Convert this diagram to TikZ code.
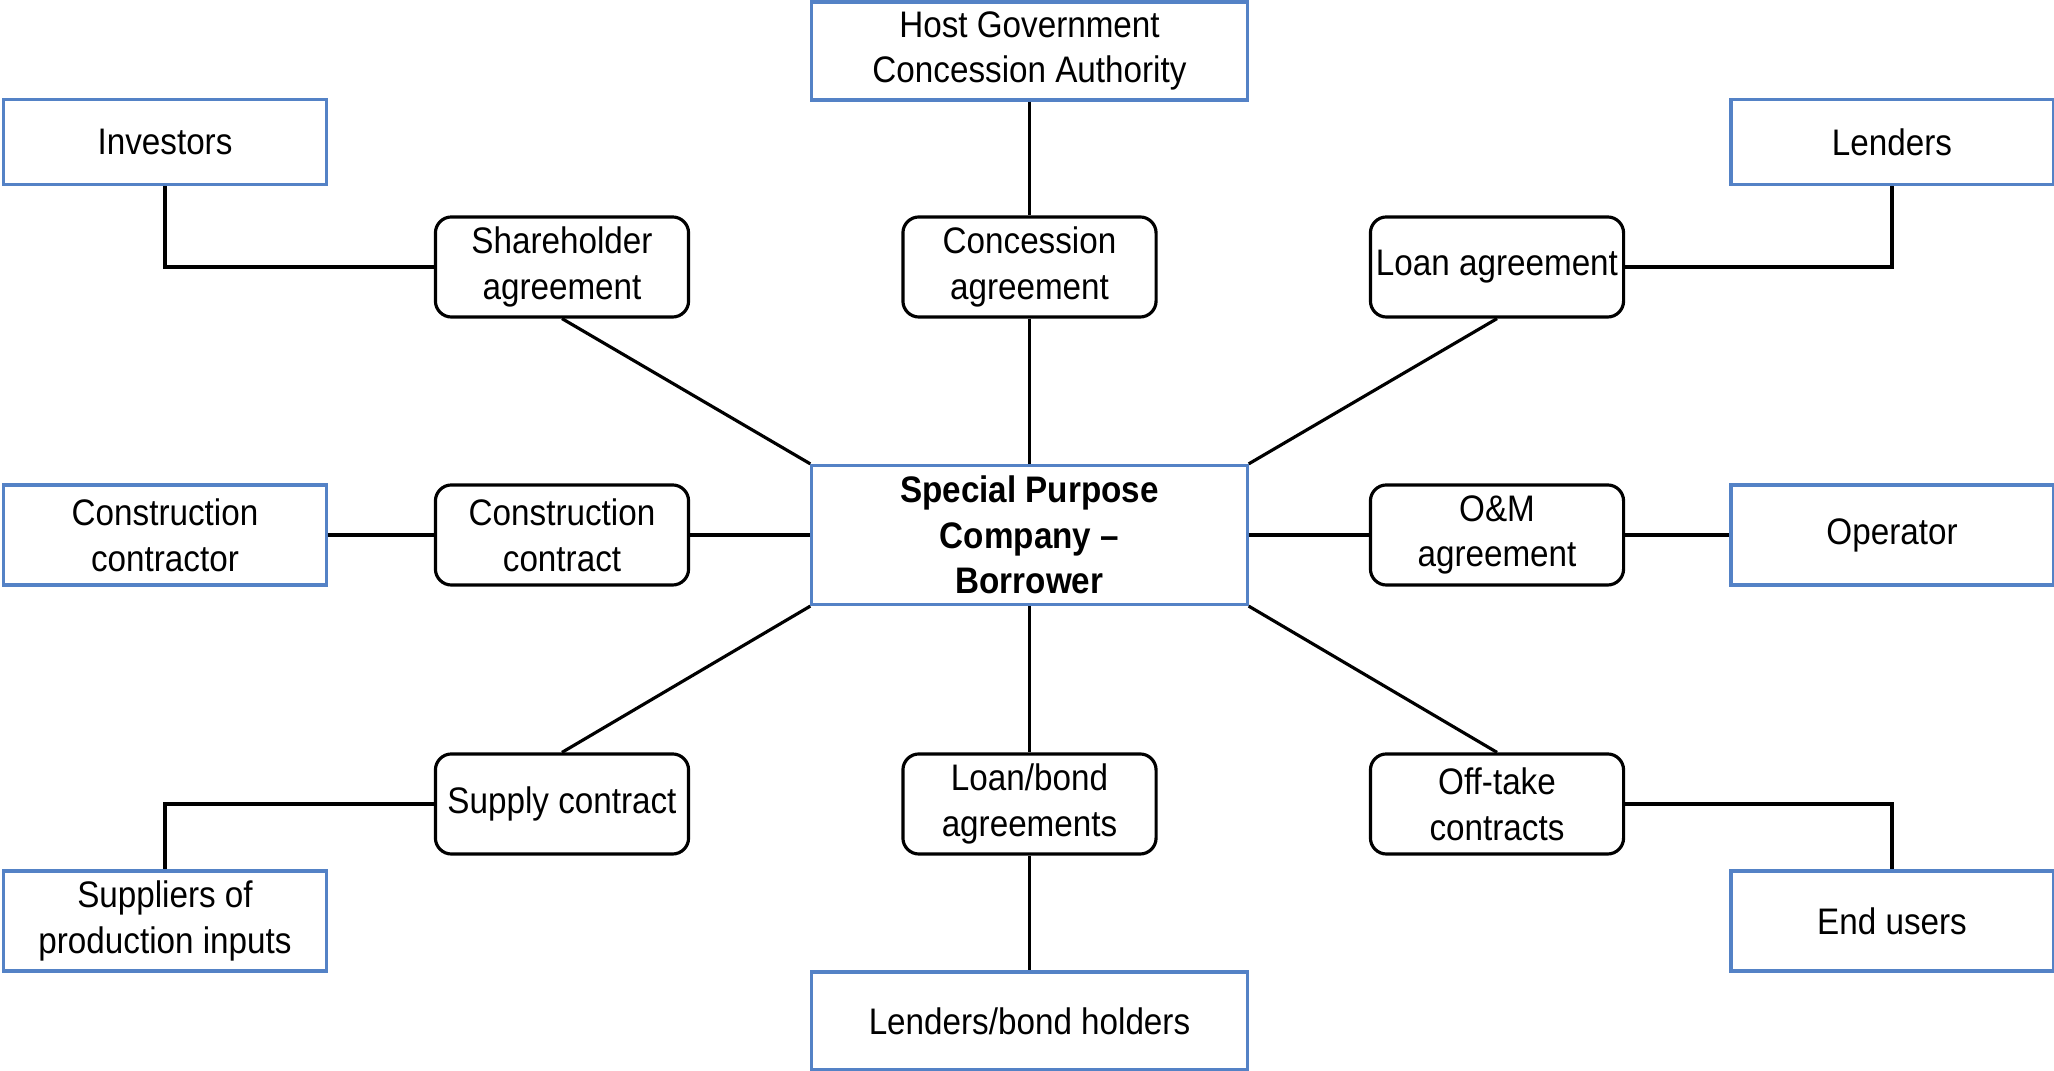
\documentclass[tikz,border=0pt]{standalone}
\usepackage{fontspec}
\setmainfont[FakeStretch=0.9]{Liberation Sans}
\definecolor{partyblue}{RGB}{84,130,198}

\begin{document}
\begin{tikzpicture}[x=0.01cm,y=-0.01cm,
	every node/.style={font=\fontsize{10.5pt}{13pt}\selectfont},
	party/.style={draw=partyblue,line width=0.9pt,align=center,inner sep=0pt,minimum width=3.22cm,minimum height=1.0cm},
	wide/.style={party,minimum width=4.35cm},
	deal/.style={draw,rounded corners=0.16cm,line width=0.9pt,align=center,inner sep=0pt,minimum width=2.53cm,minimum height=1.0cm},
	link/.style={line width=0.9pt}]
	\useasboundingbox (0,0) rectangle (2054,1071);
	
	\node[wide,minimum height=0.98cm] (host) at (1029.5,51) {Host Government\\Concession Authority};
	\node[party,minimum height=0.85cm] (inv) at (165,142) {Investors};
	\node[party,minimum height=0.85cm] (lend) at (1892,142) {Lenders};
	
	\node[deal] (share) at (562,267) {Shareholder\\agreement};
	\node[deal] (conc) at (1029.5,267) {Concession\\agreement};
	\node[deal] (loan) at (1497,267) {Loan agreement};
	
	\node[party] (cons) at (165,535) {Construction\\contractor};
	\node[deal] (ccon) at (562,535) {Construction\\contract};
	\node[wide,minimum height=1.39cm,font=\fontsize{10.5pt}{13pt}\selectfont\bfseries] (spc) at (1029.5,535) {Special Purpose\\Company --\\Borrower};
	\node[deal] (om) at (1497,535) {O\&M\\agreement};
	\node[party] (oper) at (1892,535) {Operator};
	
	\node[deal] (supc) at (562,804) {Supply contract};
	\node[deal] (bond) at (1029.5,804) {Loan/bond\\agreements};
	\node[deal] (off) at (1497,804) {Off-take\\contracts};
	
	\node[party] (supp) at (165,921) {Suppliers of\\production inputs};
	\node[party] (end) at (1892,921) {End users};
	\node[wide,minimum height=0.98cm] (hold) at (1029.5,1021) {Lenders/bond holders};
	
	\draw[link] (inv.south) |- (share.west);
	\draw[link] (share.south) -- (spc.north west);
	\draw[link] (host) -- (conc) -- (spc);
	\draw[link] (loan.east) -| (lend.south);
	\draw[link] (loan.south) -- (spc.north east);
	
	\draw[link] (cons) -- (ccon) -- (spc) -- (om) -- (oper);
	
	\draw[link] (spc.south west) -- (supc.north);
	\draw[link] (supc.west) -| (supp.north);
	\draw[link] (spc) -- (bond) -- (hold);
	\draw[link] (spc.south east) -- (off.north);
	\draw[link] (off.east) -| (end.north);
\end{tikzpicture}
\end{document}
